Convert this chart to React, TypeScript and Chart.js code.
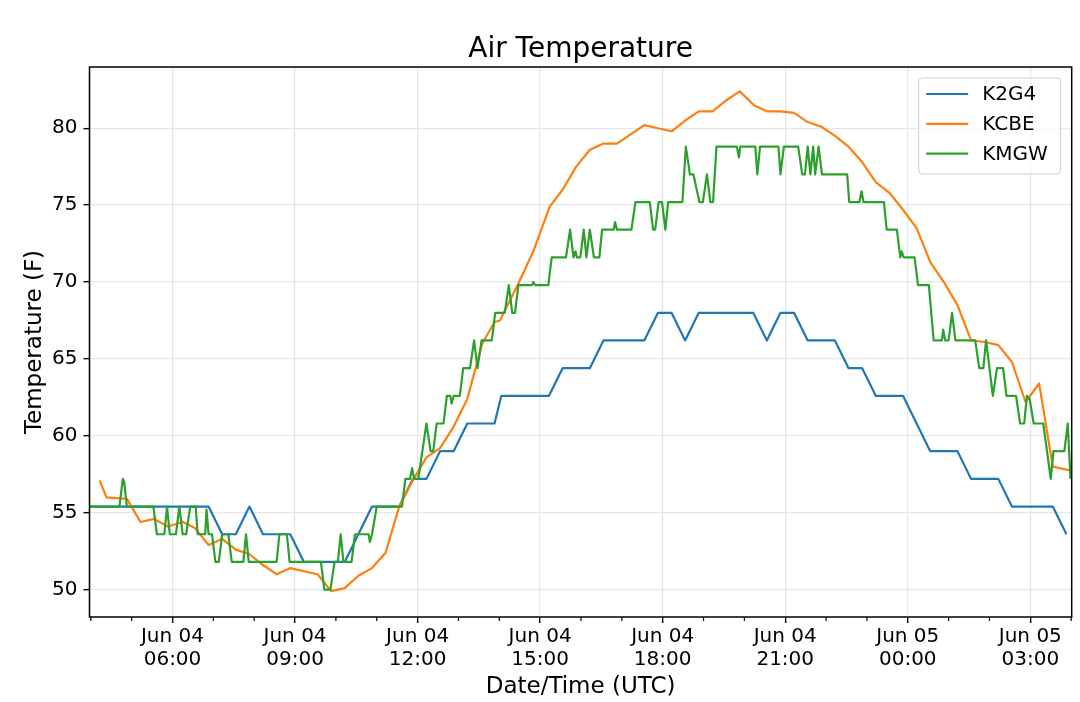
import React, { useEffect, useRef } from "react";
import { Chart, registerables } from "chart.js";
import type { ChartConfiguration, Plugin } from "chart.js";

Chart.register(...registerables);

// Times are "HH:MM" counted from Jun 04 00:00 UTC; hours of 24 and above fall on Jun 05.
const k2g4Times = [
  "03:53", "04:13", "04:33", "04:53", "05:13", "05:33", "05:53", "06:13", "06:33", "06:53",
  "07:13", "07:33", "07:53", "08:13", "08:33", "08:53", "09:13", "09:33", "09:53", "10:13",
  "10:33", "10:53", "11:13", "11:33", "11:53", "12:13", "12:33", "12:53", "13:13", "13:33",
  "13:53", "14:03", "14:13", "14:33", "14:53", "15:13", "15:33", "15:53", "16:13", "16:33",
  "16:53", "17:13", "17:33", "17:53", "18:13", "18:33", "18:53", "19:13", "19:33", "19:53",
  "20:13", "20:33", "20:53", "21:13", "21:33", "21:53", "22:13", "22:33", "22:53", "23:13",
  "23:33", "23:53", "24:13", "24:33", "24:53", "25:13", "25:33", "25:53", "26:13", "26:33",
  "26:53", "27:13", "27:33", "27:53",
];
const k2g4Temps = [
  55.4, 55.4, 55.4, 55.4, 55.4, 55.4, 55.4, 55.4, 55.4, 55.4,
  53.6, 53.6, 55.4, 53.6, 53.6, 53.6, 51.8, 51.8, 51.8, 51.8,
  53.6, 55.4, 55.4, 55.4, 57.2, 57.2, 59.0, 59.0, 60.8, 60.8,
  60.8, 62.6, 62.6, 62.6, 62.6, 62.6, 64.4, 64.4, 64.4, 66.2,
  66.2, 66.2, 66.2, 68.0, 68.0, 66.2, 68.0, 68.0, 68.0, 68.0,
  68.0, 66.2, 68.0, 68.0, 66.2, 66.2, 66.2, 64.4, 64.4, 62.6,
  62.6, 62.6, 60.8, 59.0, 59.0, 59.0, 57.2, 57.2, 57.2, 55.4,
  55.4, 55.4, 55.4, 53.6,
];

const kcbeTimes = [
  "04:13", "04:23", "04:53", "05:13", "05:33", "05:53", "06:15", "06:33", "06:53", "07:13",
  "07:33", "07:53", "08:13", "08:33", "08:53", "09:33", "09:53", "10:13", "10:33", "10:53",
  "11:13", "11:33", "11:53", "12:13", "12:33", "12:53", "13:13", "13:35", "13:53", "14:01",
  "14:28", "14:50", "15:14", "15:33", "15:53", "16:13", "16:33", "16:53", "17:13", "17:33",
  "17:53", "18:13", "18:33", "18:53", "19:13", "19:33", "19:53", "20:14", "20:33", "20:53",
  "21:13", "21:33", "21:53", "22:13", "22:33", "22:53", "23:13", "23:33", "23:53", "24:13",
  "24:33", "24:53", "25:13", "25:33", "25:53", "26:13", "26:33", "26:53", "27:13", "27:33",
  "27:53", "28:13",
];
const kcbeTemps = [
  57.1, 56.0, 55.9, 54.4, 54.6, 54.1, 54.4, 54.0, 52.9, 53.3,
  52.6, 52.3, 51.6, 51.0, 51.4, 51.0, 49.9, 50.1, 50.9, 51.4,
  52.4, 55.4, 57.1, 58.6, 59.2, 60.6, 62.4, 66.0, 67.4, 67.5,
  69.9, 72.0, 74.9, 76.0, 77.5, 78.6, 79.0, 79.0, 79.6, 80.2,
  80.0, 79.8, 80.5, 81.1, 81.1, 81.8, 82.4, 81.5, 81.1, 81.1,
  81.0, 80.4, 80.1, 79.5, 78.8, 77.8, 76.5, 75.8, 74.7, 73.5,
  71.3, 70.0, 68.5, 66.2, 66.1, 65.9, 64.8, 62.2, 63.4, 58.0,
  57.8, 57.6,
];

const kmgwTimes = [
  "03:57", "04:42", "04:47", "04:49", "04:53", "05:32", "05:37", "05:48", "05:52", "05:56",
  "06:05", "06:10", "06:15", "06:20", "06:26", "06:34", "06:37", "06:48", "06:50", "06:53",
  "06:58", "07:03", "07:08", "07:13", "07:22", "07:27", "07:44", "07:48", "07:52", "08:33",
  "08:37", "08:48", "08:52", "09:38", "09:43", "09:52", "09:58", "10:03", "10:07", "10:11",
  "10:23", "10:28", "10:48", "10:50", "10:53", "11:00", "11:37", "11:42", "11:49", "11:52",
  "11:55", "12:01", "12:13", "12:19", "12:23", "12:28", "12:38", "12:43", "12:48", "12:50",
  "12:53", "13:02", "13:07", "13:17", "13:23", "13:28", "13:34", "13:49", "13:54", "14:08",
  "14:14", "14:19", "14:23", "14:28", "14:48", "14:50", "14:53", "15:12", "15:17", "15:38",
  "15:44", "15:49", "15:52", "15:54", "15:59", "16:04", "16:08", "16:13", "16:19", "16:27",
  "16:31", "16:48", "16:50", "16:53", "17:14", "17:20", "17:41", "17:46", "17:49", "17:54",
  "17:59", "18:04", "18:08", "18:29", "18:34", "18:40", "18:45", "18:54", "18:59", "19:05",
  "19:10", "19:14", "19:19", "19:49", "19:52", "19:54", "20:16", "20:19", "20:23", "20:50",
  "20:53", "20:58", "21:19", "21:25", "21:29", "21:33", "21:37", "21:41", "21:44", "21:49",
  "21:54", "22:31", "22:34", "22:49", "22:52", "22:55", "23:25", "23:29", "23:44", "23:49",
  "23:51", "23:54", "24:10", "24:15", "24:31", "24:38", "24:50", "24:52", "24:55", "25:00",
  "25:05", "25:10", "25:39", "25:45", "25:51", "25:55", "26:05", "26:11", "26:20", "26:25",
  "26:39", "26:45", "26:51", "26:55", "26:59", "27:05", "27:19", "27:30", "27:34", "27:50",
  "27:55", "27:59",
];
const kmgwTemps = [
  55.4, 55.4, 57.2, 57.0, 55.4, 55.4, 53.6, 53.6, 55.4, 53.6,
  53.6, 55.4, 53.6, 53.6, 55.4, 55.4, 53.6, 53.6, 55.2, 53.6,
  53.6, 51.8, 51.8, 53.6, 53.6, 51.8, 51.8, 53.6, 51.8, 51.8,
  53.6, 53.6, 51.8, 51.8, 50.0, 50.0, 51.8, 51.8, 53.6, 51.8,
  51.8, 53.6, 53.6, 53.1, 53.6, 55.4, 55.4, 57.2, 57.2, 57.9,
  57.2, 57.2, 60.8, 59.0, 59.0, 60.8, 60.8, 62.6, 62.6, 62.1,
  62.6, 62.6, 64.4, 64.4, 66.2, 64.4, 66.2, 66.2, 68.0, 68.0,
  69.8, 68.0, 68.0, 69.8, 69.8, 70.0, 69.8, 69.8, 71.6, 71.6,
  73.4, 71.6, 72.0, 71.6, 71.6, 73.4, 71.6, 73.4, 71.6, 71.6,
  73.4, 73.4, 73.9, 73.4, 73.4, 75.2, 75.2, 73.4, 73.4, 75.2,
  75.2, 73.4, 75.2, 75.2, 78.8, 77.0, 77.0, 75.2, 75.2, 77.0,
  75.2, 75.2, 78.8, 78.8, 78.1, 78.8, 78.8, 77.0, 78.8, 78.8,
  77.0, 78.8, 78.8, 77.0, 77.0, 78.8, 77.0, 78.8, 77.0, 78.8,
  77.0, 77.0, 75.2, 75.2, 75.9, 75.2, 75.2, 73.4, 73.4, 71.6,
  72.0, 71.6, 71.6, 69.8, 69.8, 66.2, 66.2, 66.9, 66.2, 66.2,
  68.0, 66.2, 66.2, 64.4, 64.4, 66.2, 62.6, 64.4, 64.4, 62.6,
  62.6, 60.8, 60.8, 62.6, 62.4, 60.8, 60.8, 57.2, 59.0, 59.0,
  60.8, 57.2,
];

// axis ticks (hours since Jun 04 00:00) and their labels
const tickHours = [6, 9, 12, 15, 18, 21, 24, 27];
const tickLabels = [
  ["Jun 04", "06:00"],
  ["Jun 04", "09:00"],
  ["Jun 04", "12:00"],
  ["Jun 04", "15:00"],
  ["Jun 04", "18:00"],
  ["Jun 04", "21:00"],
  ["Jun 05", "00:00"],
  ["Jun 05", "03:00"],
];
const yTicks = [50, 55, 60, 65, 70, 75, 80];

const X_MIN = 3.968;
const X_MAX = 28.013;
const Y_MIN = 48.22;
const Y_MAX = 83.98;

const FONT = "'DejaVu Sans', 'Liberation Sans', sans-serif";
const GRID = "#e6e6e6";

const toHours = (hhmm: string) => {
  const [h, m] = hhmm.split(":").map(Number);
  return h + m / 60;
};
const toPoints = (times: string[], temps: number[]) =>
  times.map((t, i) => ({ x: toHours(t), y: temps[i] }));

// spines, minor ticks and the boxed legend in the top right corner
const framePlugin: Plugin<"line"> = {
  id: "frame",
  afterDraw(chart) {
    const { ctx, chartArea: a } = chart;
    const xScale = chart.scales.x;
    ctx.save();

    ctx.strokeStyle = "#000";
    ctx.lineWidth = 1.2;
    for (let h = Math.ceil(X_MIN); h <= X_MAX; h++) {
      if (tickHours.includes(h)) continue;
      const px = xScale.getPixelForValue(h);
      ctx.beginPath();
      ctx.moveTo(px, a.bottom);
      ctx.lineTo(px, a.bottom + 4);
      ctx.stroke();
    }

    ctx.lineWidth = 1.5;
    ctx.strokeRect(a.left, a.top, a.right - a.left, a.bottom - a.top);

    const boxW = 142;
    const boxH = 96;
    const bx = a.right - 11 - boxW;
    const by = a.top + 11;
    ctx.fillStyle = "rgba(255,255,255,0.8)";
    ctx.strokeStyle = "#cccccc";
    ctx.lineWidth = 1;
    ctx.beginPath();
    if ((ctx as any).roundRect) (ctx as any).roundRect(bx, by, boxW, boxH, 4);
    else ctx.rect(bx, by, boxW, boxH);
    ctx.fill();
    ctx.stroke();

    ctx.font = `20px ${FONT}`;
    ctx.textBaseline = "middle";
    ctx.textAlign = "left";
    chart.data.datasets.forEach((ds, i) => {
      const y = by + 16 + i * 29.8;
      ctx.strokeStyle = ds.borderColor as string;
      ctx.lineWidth = 2.2;
      ctx.beginPath();
      ctx.moveTo(bx + 7.5, y);
      ctx.lineTo(bx + 49.5, y);
      ctx.stroke();
      ctx.fillStyle = "#000";
      ctx.fillText(ds.label as string, bx + 63.5, y + 1);
    });

    ctx.restore();
  },
};

const TemperatureChart: React.FC = () => {
  const canvasRef = useRef<HTMLCanvasElement>(null);
  const chartRef = useRef<Chart<"line"> | null>(null);

  useEffect(() => {
    if (!canvasRef.current) return;
    const ctx = canvasRef.current.getContext("2d");
    if (!ctx) return;

    if (chartRef.current) chartRef.current.destroy();

    const config: ChartConfiguration<"line"> = {
      type: "line",
      data: {
        datasets: [
          { label: "K2G4", data: toPoints(k2g4Times, k2g4Temps), borderColor: "#1f77b4", order: 3 },
          { label: "KCBE", data: toPoints(kcbeTimes, kcbeTemps), borderColor: "#ff7f0e", order: 2 },
          { label: "KMGW", data: toPoints(kmgwTimes, kmgwTemps), borderColor: "#2ca02c", order: 1 },
        ],
      },
      options: {
        animation: false,
        responsive: true,
        maintainAspectRatio: false,
        events: [],
        elements: {
          line: { borderWidth: 2.2, tension: 0, borderJoinStyle: "round", fill: false },
          point: { radius: 0 },
        },
        layout: { padding: { top: 0, right: 8.3, bottom: 0, left: 0 } },
        plugins: {
          legend: { display: false },
          tooltip: { enabled: false },
          title: {
            display: true,
            text: "Air Temperature",
            fullSize: false,
            color: "#000",
            font: { family: FONT, size: 28, weight: "normal" },
            padding: { top: 33, bottom: 0.4 },
          },
        },
        scales: {
          x: {
            type: "linear",
            min: X_MIN,
            max: X_MAX,
            afterBuildTicks: (scale) => {
              scale.ticks = tickHours.map((value) => ({ value }));
            },
            afterFit: (scale) => {
              scale.height = 85;
            },
            ticks: {
              autoSkip: false,
              maxRotation: 0,
              color: "#000",
              padding: 2,
              font: { family: FONT, size: 20, lineHeight: 1.17 },
              callback: (value) => tickLabels[tickHours.indexOf(Number(value))] ?? "",
            },
            grid: { color: GRID, lineWidth: 1.3, tickColor: "#000", tickLength: 6, tickWidth: 1.4 },
            border: { display: false },
            title: {
              display: true,
              text: "Date/Time (UTC)",
              color: "#000",
              font: { family: FONT, size: 23 },
              padding: { top: 0, bottom: 1.5 },
            },
          },
          y: {
            min: Y_MIN,
            max: Y_MAX,
            afterBuildTicks: (scale) => {
              scale.ticks = yTicks.map((value) => ({ value }));
            },
            afterFit: (scale) => {
              scale.width = 89.5;
            },
            ticks: {
              color: "#000",
              padding: 6,
              font: { family: FONT, size: 20 },
            },
            grid: { color: GRID, lineWidth: 1.3, tickColor: "#000", tickLength: 6, tickWidth: 1.4 },
            border: { display: false },
            title: {
              display: true,
              text: "Temperature (F)",
              color: "#000",
              font: { family: FONT, size: 23 },
              padding: { top: 21, bottom: 0 },
            },
          },
        },
      },
      plugins: [framePlugin],
    };

    chartRef.current = new Chart(ctx, config);

    return () => {
      if (chartRef.current) {
        chartRef.current.destroy();
        chartRef.current = null;
      }
    };
  }, []);

  return (
    <div style={{ position: "absolute", left: 0, top: 0, width: 1080, height: 702, background: "#fff" }}>
      <canvas ref={canvasRef}></canvas>
    </div>
  );
};

export default function App() {
  return <TemperatureChart />;
}
